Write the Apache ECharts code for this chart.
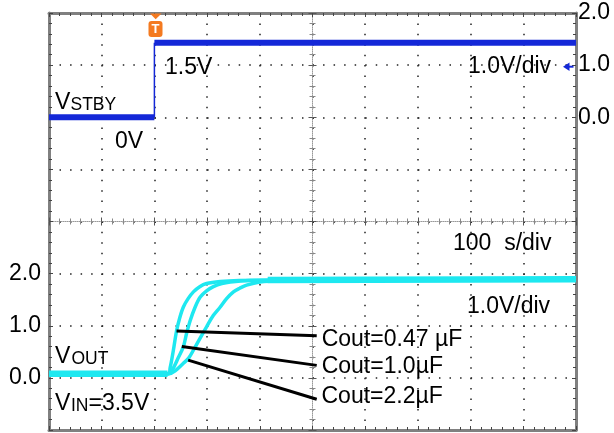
<!DOCTYPE html>
<html><head><meta charset="utf-8">
<script src="https://cdn.jsdelivr.net/npm/echarts@6/dist/echarts.min.js"></script>
<style>html,body{margin:0;padding:0;background:#fff}#c{width:614px;height:433px}</style>
</head><body><div id="c"></div>
<script>
// ---- data (time in µs, 100 µs/div, trigger at 0; voltages in V, 1.0 V/div) ----
const vstbyLow  = [[-200, 0.0], [0, 0.0]];
const vstbyHigh = [[0, 1.43], [800, 1.43]];
const vstbyEdge = [[0, 0.0], [0, 1.43]];

const vout047 = [[-200,0.08],[26,0.08],[30,0.2],[36,0.53],[42,0.9],[48,1.15],[55,1.36],[64,1.52],[74,1.65],[86,1.75],[99,1.81],[125,1.85],[160,1.87],[250,1.88],[800,1.88]];
const vout10  = [[-200,0.08],[27,0.08],[35,0.17],[45,0.38],[55,0.6],[61,0.85],[68,1.1],[77,1.35],[87,1.55],[99,1.67],[112,1.75],[128,1.81],[144,1.84],[180,1.87],[250,1.88],[800,1.88]];
const vout22  = [[-200,0.08],[28,0.08],[40,0.14],[55,0.28],[65,0.38],[74,0.53],[86,0.75],[99,0.98],[112,1.2],[125,1.36],[137,1.52],[150,1.65],[162,1.72],[175,1.78],[200,1.84],[240,1.87],[300,1.88],[800,1.88]];
const voutBaseline = [[-200, 0.08], [25, 0.08]];
const voutSettled  = [[215, 1.88], [800, 1.89]];

const coutLabels  = ['Cout=0.47 µF', 'Cout=1.0µF', 'Cout=2.2µF'];
const leaderStart = [[42, 0.90], [52, 0.60], [64, 0.34]];
const leaderEnd   = [[308, 0.81], [308, 0.24], [308, -0.41]];

const timeRange = [-200, 800];
const ch2Range = [-1, 7];   // left scale (VOUT)
const ch1Range = [-6, 2];   // right scale (VSTBY)
const shownTicks = [0, 1, 2];

// ---- styles ----
const FONT = '"Liberation Sans", Arial, sans-serif';
const BLUE = '#1428d8', CYAN = '#1ee8f0', BORDER = '#808080', TICK = '#444';
const fmt = v => shownTicks.includes(Math.round(v * 1000) / 1000) ? v.toFixed(1) : '';

function borderAxis(extra) {
  return Object.assign({
    type: 'value',
    axisLine: { show: true, onZero: false, lineStyle: { color: BORDER, width: 3 } },
    axisTick: { show: true, inside: true, length: 4, lineStyle: { color: TICK, width: 1 } },
    minorTick: { show: true, splitNumber: 5, length: 3, lineStyle: { color: TICK, width: 1 } },
    axisLabel: { show: false },
    splitLine: { show: false }
  }, extra);
}
function centerAxis(extra, inside, showLine) {
  return Object.assign({
    type: 'value', interval: 1,
    axisLine: { show: showLine, onZero: true, onZeroAxisIndex: 2, lineStyle: { color: '#9a9a9a', width: 1, type: [1, 1] } },
    axisTick: { show: true, inside: inside, length: 4, lineStyle: { color: '#555', width: 1 } },
    minorTick: { show: true, splitNumber: 5, length: 3, lineStyle: { color: '#888', width: 1 } },
    axisLabel: { show: false },
    splitLine: { show: false }
  }, extra);
}

const chart = echarts.init(document.getElementById('c'), null, { renderer: 'canvas' });

const coutSeries = [vout047, vout10, vout22].map((d, i) => ({
  type: 'line', xAxisIndex: 0, yAxisIndex: 0, data: d, showSymbol: false, symbol: 'none',
  smooth: 0.35, lineStyle: { color: CYAN, width: 3.5 }, z: 3,
  markLine: {
    silent: true, symbol: ['none', 'none'], animation: false,
    lineStyle: { color: '#000', width: 3, type: 'solid' },
    label: { show: true, position: 'end', distance: 5, formatter: coutLabels[i], color: '#000',
             fontSize: 23, fontFamily: FONT, offset: [0, [4, 1, -4][i]] },
    emphasis: { disabled: true },
    data: [[{ coord: leaderStart[i] }, { coord: leaderEnd[i] }]]
  }
}));

const txt = (text, x, y, size, extra) => ({
  type: 'text', x: x, y: y, z: 100,
  style: Object.assign({ text: text, font: size + 'px ' + FONT, fill: '#000', align: 'left', verticalAlign: 'middle' }, extra || {})
});

chart.setOption({
  animation: false,
  backgroundColor: '#fff',
  grid: { left: 49, right: 38, top: 13, bottom: 3, containLabel: false },
  xAxis: [
    borderAxis({ position: 'bottom', min: timeRange[0], max: timeRange[1], interval: 100,
      splitLine: { show: true, lineStyle: { color: '#222', width: 1.5, type: [1.5, 8.92] } } }),
    borderAxis({ position: 'top', min: timeRange[0], max: timeRange[1], interval: 100 }),
    centerAxis({ position: 'bottom', min: -5, max: 5 }, true, true),
    centerAxis({ position: 'bottom', min: -5, max: 5 }, false, false)
  ],
  yAxis: [
    borderAxis({ position: 'left', min: ch2Range[0], max: ch2Range[1], interval: 1,
      axisLabel: { show: true, formatter: fmt, margin: 8, color: '#000', fontSize: 23, fontFamily: FONT },
      splitLine: { show: true, lineStyle: { color: '#222', width: 1.5, type: [1.5, 9.04] } } }),
    borderAxis({ position: 'right', min: ch1Range[0], max: ch1Range[1], interval: 1,
      axisLabel: { show: true, formatter: fmt, margin: 2, color: '#000', fontSize: 23, fontFamily: FONT, padding: [5, 0, 0, 0] } }),
    centerAxis({ position: 'left', min: -4, max: 4 }, true, true),
    centerAxis({ position: 'left', min: -4, max: 4 }, false, false)
  ],
  series: [
    { type: 'line', xAxisIndex: 0, yAxisIndex: 1, data: vstbyLow, symbol: 'none', lineStyle: { color: BLUE, width: 6 }, z: 2 },
    { type: 'line', xAxisIndex: 0, yAxisIndex: 1, data: vstbyHigh, symbol: 'none', lineStyle: { color: BLUE, width: 6 }, z: 2 },
    { type: 'line', xAxisIndex: 0, yAxisIndex: 1, data: vstbyEdge, symbol: 'none', lineStyle: { color: BLUE, width: 1.5 }, z: 2 },
    { type: 'line', xAxisIndex: 0, yAxisIndex: 0, data: voutBaseline, symbol: 'none', lineStyle: { color: CYAN, width: 6.5 }, z: 3 },
    { type: 'line', xAxisIndex: 0, yAxisIndex: 0, data: voutSettled, symbol: 'none', lineStyle: { color: CYAN, width: 6.5 }, z: 3 }
  ].concat(coutSeries),
  graphic: [
    txt('1.5V', 165, 68, 23),
    txt('0V', 115, 141.5, 23),
    txt('1.0V/div', 468, 66.5, 23),
    txt('100  s/div', 453, 244, 23),
    txt('1.0V/div', 467, 306.5, 23),
    txt('V', 55, 103, 23), txt('STBY', 70.5, 105.2, 17.5),
    txt('V', 55, 356.7, 23), txt('OUT', 71.5, 359.2, 17.5),
    txt('V', 55, 403.3, 23), txt('IN', 71, 405.8, 17.5), txt('=3.5V', 88.5, 403.3, 23),
    // channel-1 reference arrow
    { type: 'polygon', z: 100, shape: { points: [[563, 66.7], [569.5, 62.5], [569.5, 70.9]] }, style: { fill: BLUE } },
    { type: 'line', z: 100, shape: { x1: 568, y1: 66.7, x2: 573.5, y2: 66.7 }, style: { stroke: BLUE, lineWidth: 2 } },
    // trigger marker
    { type: 'polygon', z: 100, shape: { points: [[150, 13.5], [161.5, 13.5], [155.7, 19.3]] }, style: { fill: '#f47a20' } },
    { type: 'rect', z: 100, shape: { x: 148.5, y: 21, width: 14, height: 16, r: 3 }, style: { fill: '#f47a20' } },
    { type: 'text', z: 101, x: 155.5, y: 29.5, style: { text: 'T', font: 'bold 13px ' + FONT, fill: '#fff', align: 'center', verticalAlign: 'middle' } }
  ]
});
</script></body></html>
